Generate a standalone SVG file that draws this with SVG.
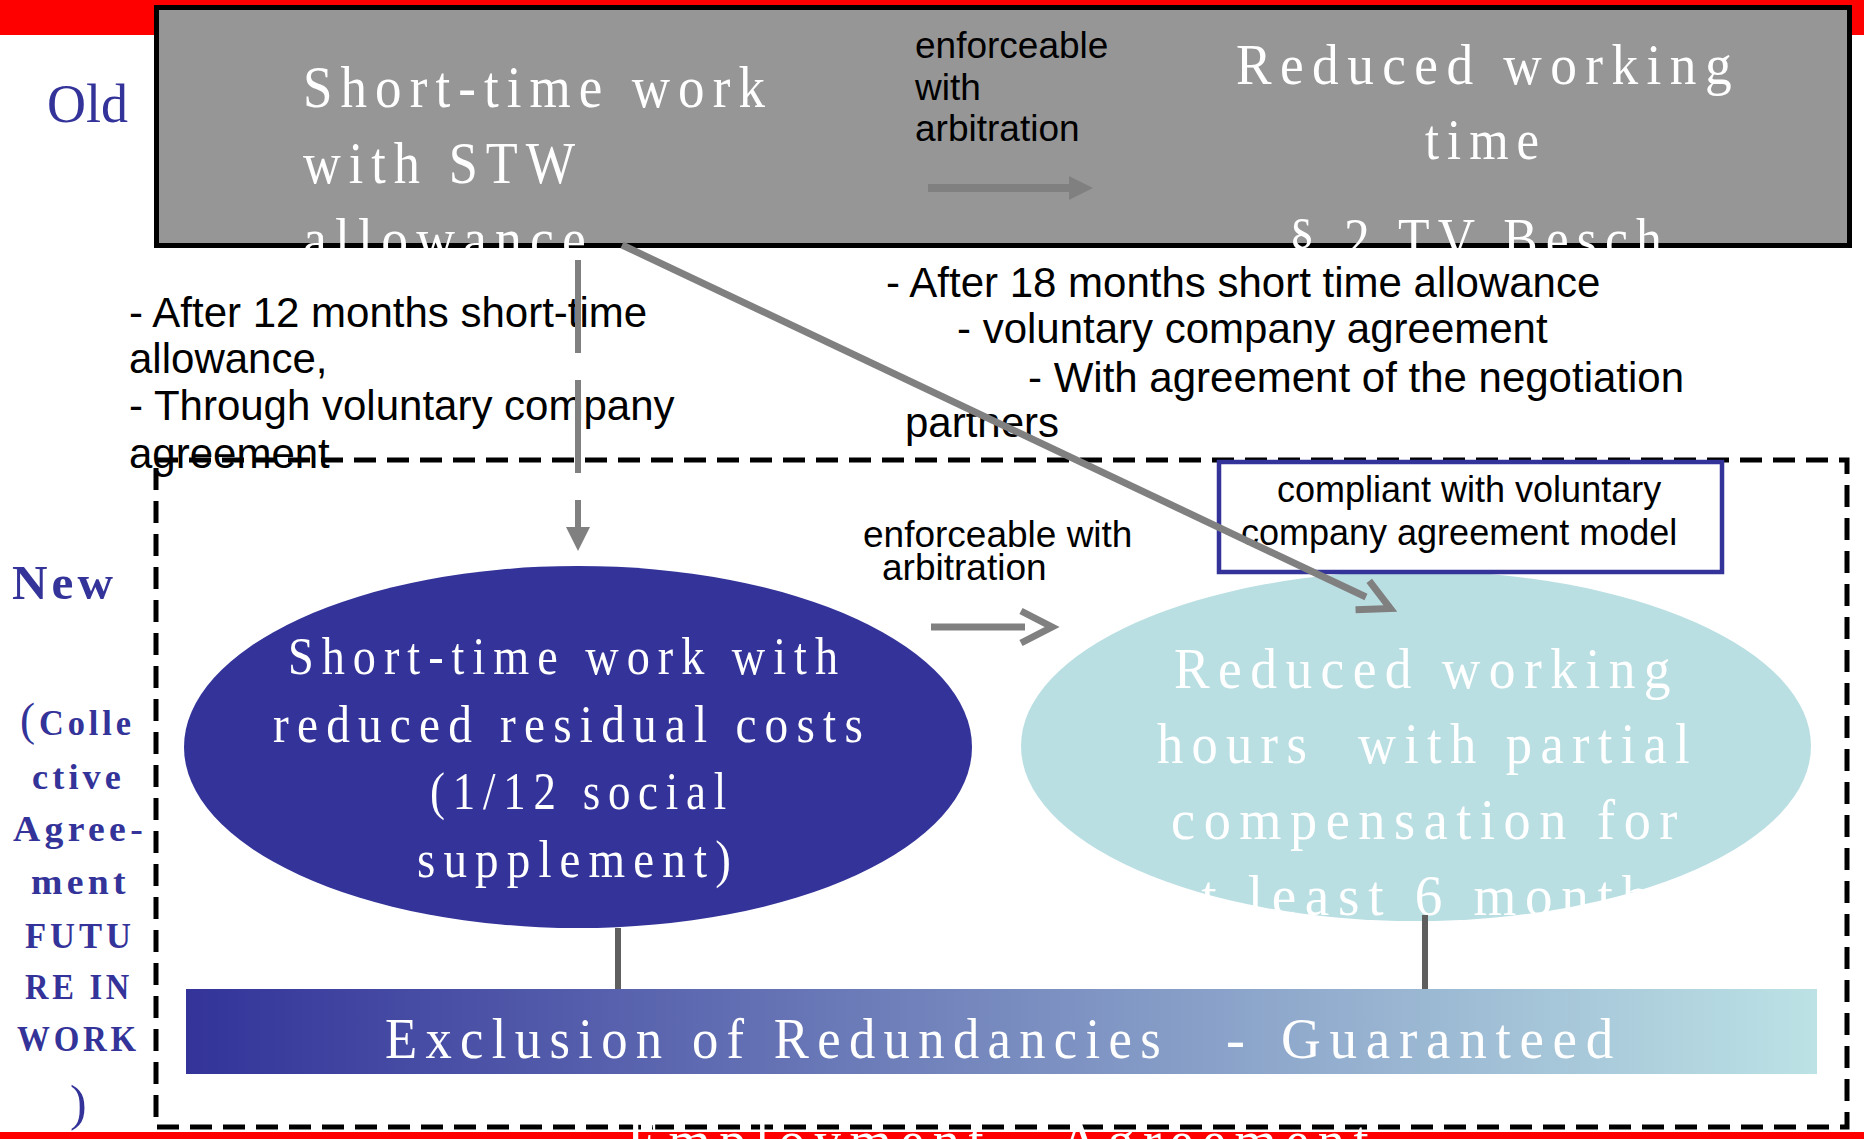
<svg xmlns="http://www.w3.org/2000/svg" width="1864" height="1139" viewBox="0 0 1864 1139">
<defs>
<style>
.sw{font-family:"Liberation Serif",serif;fill:#ffffff;letter-spacing:9px}
.sa{font-family:"Liberation Sans",Arial,sans-serif;fill:#000000}
.lb{font-family:"Liberation Serif",serif;fill:#333399;font-weight:bold;letter-spacing:4px}
.arr{stroke:#808080;fill:none}
.stem{stroke:#5f5f5f;stroke-width:6;fill:none}
</style>
<marker id="tri" markerUnits="userSpaceOnUse" markerWidth="24" markerHeight="24" refX="0" refY="12" orient="auto" overflow="visible">
<path d="M0,0 L24,12 L0,24 Z" fill="#808080"/>
</marker>
<marker id="chev" markerUnits="userSpaceOnUse" markerWidth="40" markerHeight="40" refX="4" refY="16" orient="auto" overflow="visible">
<path d="M0,0 L31,16 L0,32" fill="none" stroke="#808080" stroke-width="7"/>
</marker>
<linearGradient id="barGrad" x1="0" y1="0" x2="1" y2="0">
<stop offset="0" stop-color="#333399"/>
<stop offset="1" stop-color="#bce2e5"/>
</linearGradient>
</defs>
<rect x="0" y="0" width="1864" height="1139" fill="#ffffff"/>
<g id="bands">
<rect x="0" y="0" width="1864" height="35" fill="#ff0000"/>
<rect x="0" y="1132" width="1864" height="7" fill="#ff0000"/>
</g>
<g id="old-box">
<rect x="156.5" y="7.5" width="1693" height="238" fill="#969696" stroke="#000000" stroke-width="5"/>
</g>
<g id="label-old">
<text x="47" y="122" font-family="Liberation Serif, serif" font-size="54" fill="#333399" textLength="81" lengthAdjust="spacingAndGlyphs">Old</text>
</g>
<g id="label-new">
<text class="lb" x="12" y="599" font-size="48" textLength="105" lengthAdjust="spacingAndGlyphs">New</text>
<text class="lb" x="20" y="735" font-size="35" textLength="115" lengthAdjust="spacingAndGlyphs"><tspan font-weight="normal" font-size="46">(</tspan>Colle</text>
<text class="lb" x="32" y="789" font-size="35" textLength="93" lengthAdjust="spacingAndGlyphs">ctive</text>
<text class="lb" x="13" y="841" font-size="35" textLength="134" lengthAdjust="spacingAndGlyphs">Agree-</text>
<text class="lb" x="31" y="894" font-size="35" textLength="99" lengthAdjust="spacingAndGlyphs">ment</text>
<text class="lb" x="25" y="948" font-size="35" textLength="110" lengthAdjust="spacingAndGlyphs">FUTU</text>
<text class="lb" x="25" y="999" font-size="35" textLength="108" lengthAdjust="spacingAndGlyphs">RE IN</text>
<text class="lb" x="17" y="1051" font-size="35" textLength="123" lengthAdjust="spacingAndGlyphs">WORK</text>
<text x="70" y="1120" font-family="Liberation Serif, serif" font-size="50" fill="#333399">)</text>
</g>
<g id="node-stw-old">
<text class="sw" x="303" y="107" font-size="59" textLength="470" lengthAdjust="spacingAndGlyphs">Short-time work</text>
<text class="sw" x="303" y="183" font-size="59" textLength="280" lengthAdjust="spacingAndGlyphs">with STW</text>
<text class="sw" x="303" y="259" font-size="59" textLength="291" lengthAdjust="spacingAndGlyphs">allowance</text>
</g>
<g id="node-rwt-old">
<text class="sw" x="1236" y="84" font-size="57" textLength="504" lengthAdjust="spacingAndGlyphs">Reduced working</text>
<text class="sw" x="1425" y="159" font-size="57" textLength="122" lengthAdjust="spacingAndGlyphs">time</text>
<text class="sw" x="1289" y="258" font-size="57" textLength="381" lengthAdjust="spacingAndGlyphs">§ 2 TV Besch</text>
</g>
<g id="notes">
<text class="sa" font-size="42"><tspan x="129" y="327">- After 12 months short-time</tspan><tspan x="129" y="373">allowance,</tspan><tspan x="129" y="420">- Through voluntary company</tspan><tspan x="129" y="468">agreement</tspan></text>
<text class="sa" font-size="42"><tspan x="886" y="297">- After 18 months short time allowance</tspan><tspan x="957" y="343">- voluntary company agreement</tspan><tspan x="1028" y="392">- With agreement of the negotiation</tspan><tspan x="905" y="437">partners</tspan></text>
</g>
<g id="new-area">
<rect x="156" y="460" width="1691" height="667" fill="none" stroke="#000000" stroke-width="5" stroke-dasharray="22 11"/>
</g>
<g id="node-stw-new">
<ellipse cx="578" cy="747" rx="394" ry="181" fill="#333399"/>
<text class="sw" x="288" y="674" font-size="52" textLength="558" lengthAdjust="spacingAndGlyphs">Short-time work with</text>
<text class="sw" x="273" y="742" font-size="52" textLength="598" lengthAdjust="spacingAndGlyphs">reduced residual costs</text>
<text class="sw" x="430" y="809" font-size="52" textLength="304" lengthAdjust="spacingAndGlyphs">(1/12 social</text>
<text class="sw" x="417" y="877" font-size="52" textLength="322" lengthAdjust="spacingAndGlyphs">supplement)</text>
</g>
<g id="node-rwh-new">
<ellipse cx="1416" cy="746" rx="395" ry="175" fill="#badfe3"/>
<text class="sw" x="1174" y="688" font-size="57" textLength="505" lengthAdjust="spacingAndGlyphs">Reduced working</text>
<text class="sw" x="1157" y="763" font-size="57" textLength="541" lengthAdjust="spacingAndGlyphs" xml:space="preserve">hours  with partial</text>
<text class="sw" x="1171" y="839" font-size="57" textLength="515" lengthAdjust="spacingAndGlyphs">compensation for</text>
<text class="sw" x="1168" y="915" font-size="57" textLength="520" lengthAdjust="spacingAndGlyphs">at least 6 months</text>
</g>
<g id="node-compliant">
<rect x="1219" y="462" width="503" height="110" fill="#ffffff" stroke="#333399" stroke-width="4.5"/>
<text class="sa" x="1277" y="502" font-size="36">compliant with voluntary</text>
<text class="sa" x="1241" y="545" font-size="36">company agreement model</text>
</g>
<g id="node-exclusion">
<rect x="186" y="989" width="1631" height="85" fill="url(#barGrad)"/>
<text class="sw" x="385" y="1058" font-size="57" textLength="784" lengthAdjust="spacingAndGlyphs">Exclusion of Redundancies</text>
<text class="sw" x="1226" y="1058" font-size="57" letter-spacing="0">-</text>
<text class="sw" x="1281" y="1058" font-size="57" textLength="341" lengthAdjust="spacingAndGlyphs">Guaranteed</text>
</g>
<g id="connectors">
<line class="arr" x1="928" y1="188" x2="1069" y2="188" stroke-width="8" marker-end="url(#tri)"/>
<line class="arr" x1="578" y1="260" x2="578" y2="527" stroke-width="6" stroke-dasharray="93 27" marker-end="url(#tri)"/>
<line class="arr" x1="622" y1="245" x2="1366" y2="597" stroke-width="7" marker-end="url(#chev)"/>
<line class="arr" x1="931" y1="627" x2="1025" y2="627" stroke-width="7" marker-end="url(#chev)"/>
<line class="stem" x1="618" y1="928" x2="618" y2="989"/>
<line class="stem" x1="1425" y1="915" x2="1425" y2="989"/>
<text class="sa" font-size="37"><tspan x="915" y="58">enforceable</tspan><tspan x="915" y="100">with</tspan><tspan x="915" y="141">arbitration</tspan></text>
<text class="sa" font-size="37"><tspan x="863" y="547">enforceable with</tspan><tspan x="882" y="580">arbitration</tspan></text>
</g>
<g id="footer-text">
<text class="sw" x="627" y="1160" font-size="57" textLength="750" lengthAdjust="spacingAndGlyphs">Employment - Agreement</text>
</g>
</svg>
